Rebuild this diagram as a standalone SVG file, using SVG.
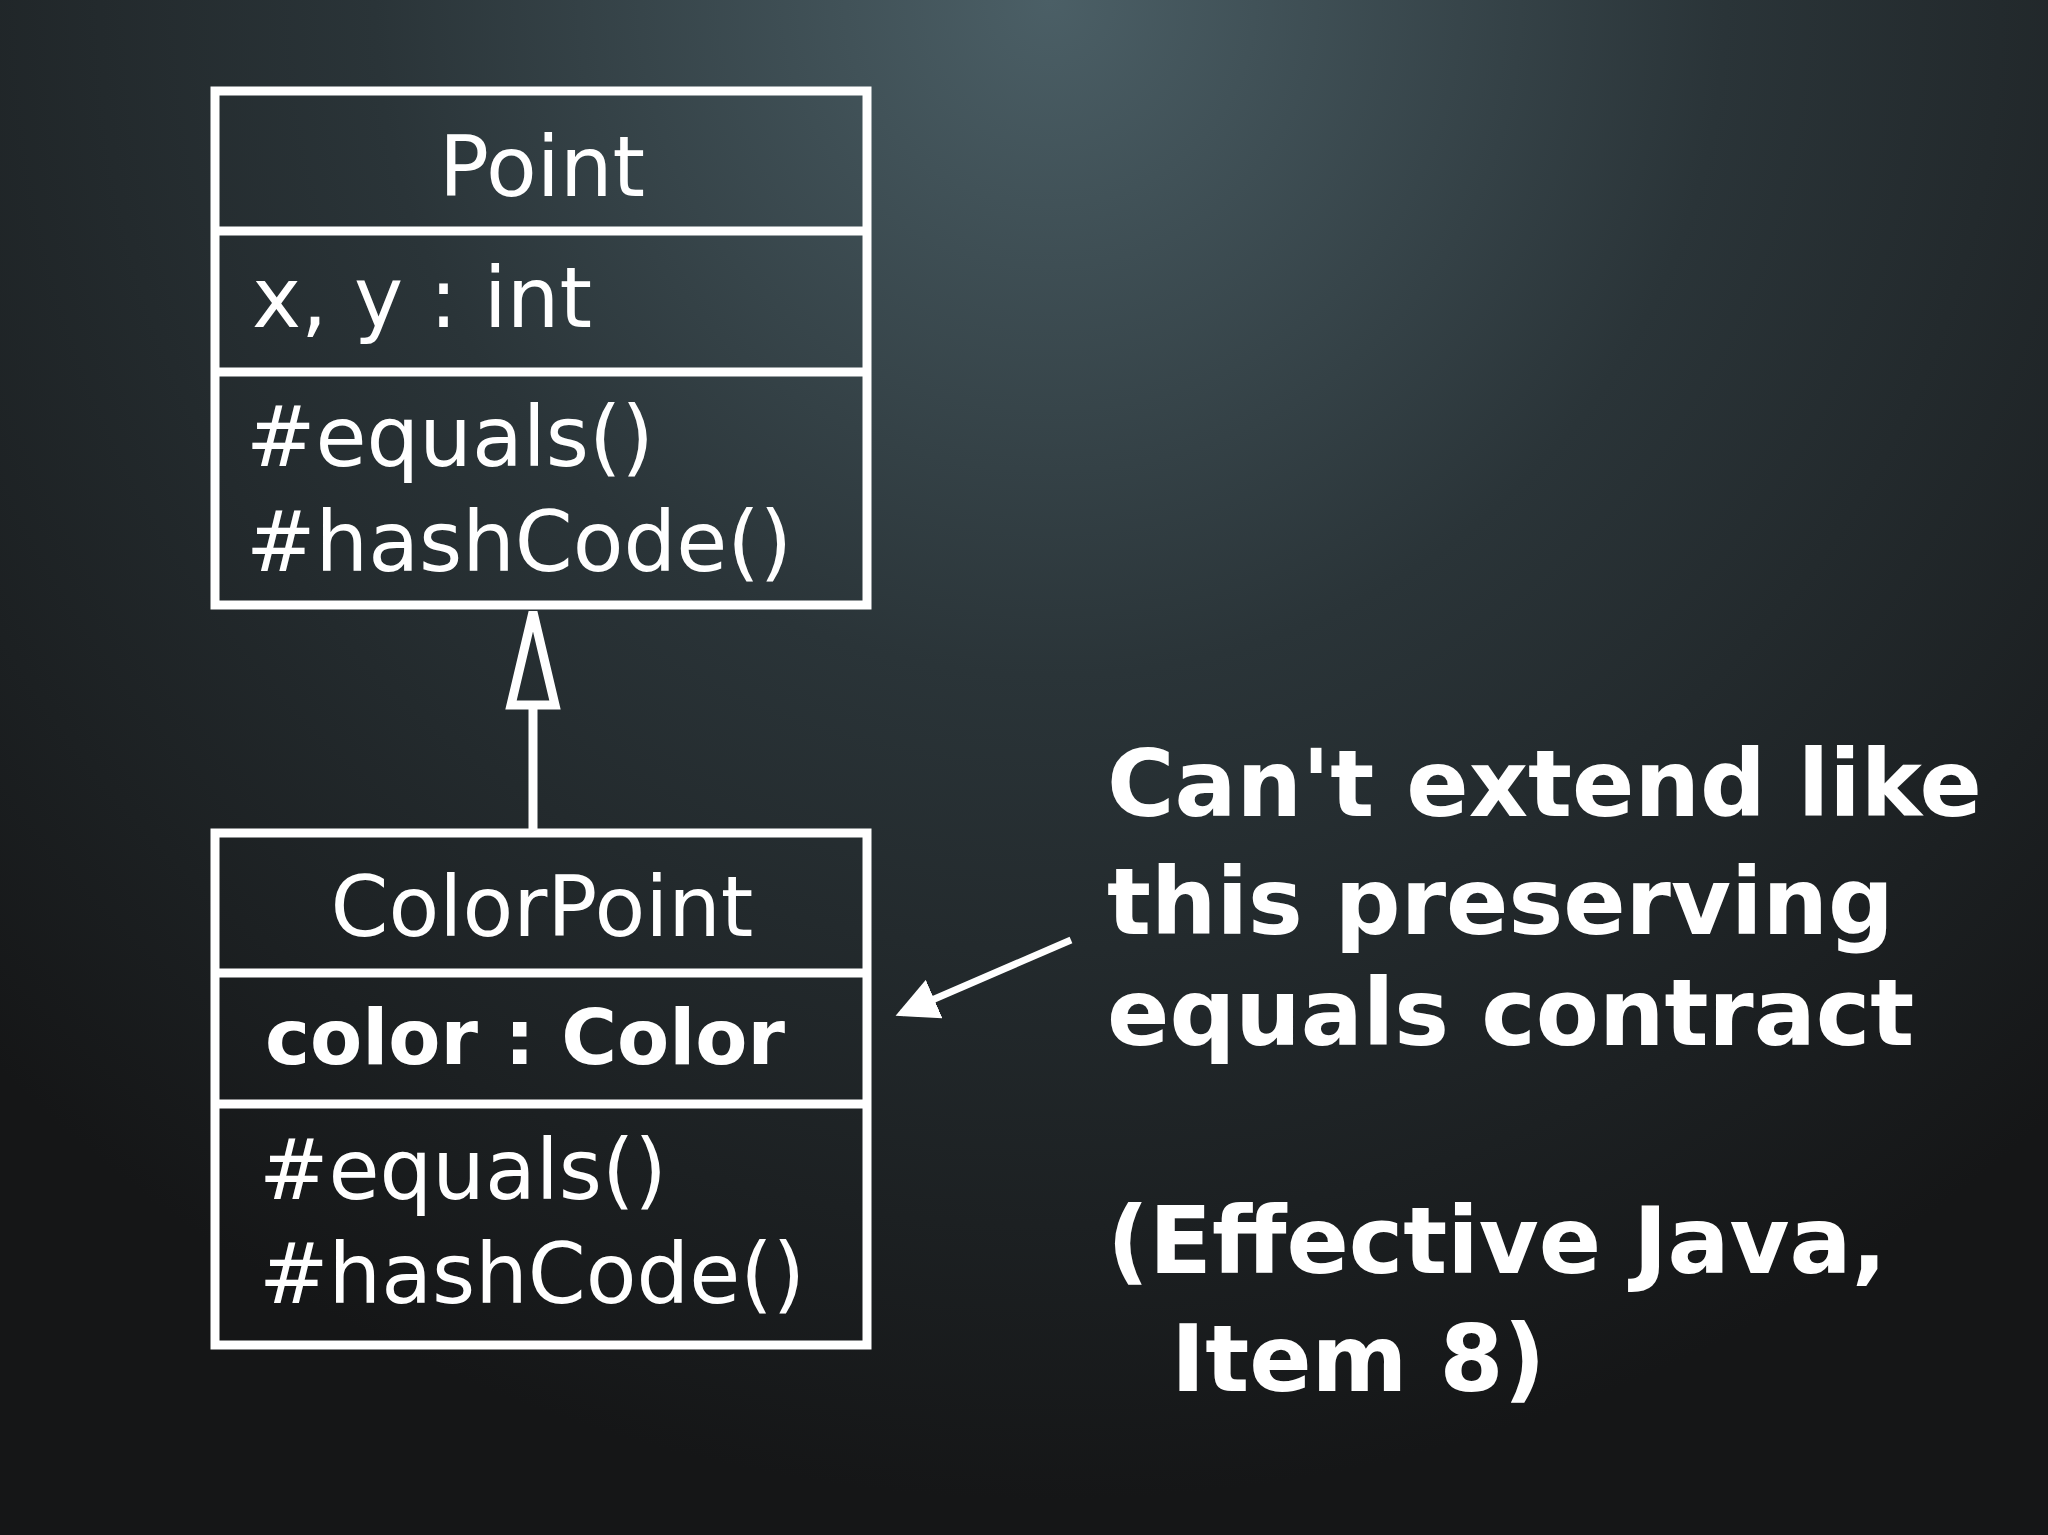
<svg xmlns="http://www.w3.org/2000/svg" width="2048" height="1535" viewBox="0 0 2048 1535">
<defs>
<radialGradient id="bg" cx="1050" cy="0" r="1500" gradientUnits="userSpaceOnUse">
<stop offset="0" stop-color="#4b5f66"/>
<stop offset="0.45" stop-color="#2a3438"/>
<stop offset="1" stop-color="#151617"/>
</radialGradient>
<marker id="ah" markerWidth="6" markerHeight="6" refX="5" refY="3" orient="auto" markerUnits="strokeWidth">
<path d="M0,0 L6,3 L0,6 Z" fill="#fff"/>
</marker>
<style>
.box{fill:none;stroke:#fff;stroke-width:9}
.t{font-family:"DejaVu Sans",Verdana,sans-serif;font-size:83px;fill:#fff}
.b{font-family:"DejaVu Sans",Verdana,sans-serif;font-weight:bold;font-size:92px;fill:#fff}
.bs{font-size:76px}
</style>
</defs>
<rect width="2048" height="1535" fill="url(#bg)"/>
<g id="Point">
<rect class="box" x="215" y="91" width="652" height="514"/>
<line class="box" x1="215" y1="231" x2="867" y2="231"/>
<line class="box" x1="215" y1="372" x2="867" y2="372"/>
<text class="t" x="542" y="196" text-anchor="middle">Point</text>
<text class="t" x="252" y="327">x, y : int</text>
<text class="t" x="246" y="466">#equals()</text>
<text class="t" x="246" y="571">#hashCode()</text>
</g>
<g id="ColorPoint">
<rect class="box" x="215" y="833" width="652" height="512"/>
<line class="box" x1="215" y1="973" x2="867" y2="973"/>
<line class="box" x1="215" y1="1104" x2="867" y2="1104"/>
<text class="t" x="542" y="936" text-anchor="middle">ColorPoint</text>
<text class="b bs" x="265" y="1064">color : Color</text>
<text class="t" x="259" y="1199">#equals()</text>
<text class="t" x="259" y="1303">#hashCode()</text>
</g>
<g id="note">
<text class="b" x="1107" y="816">Can't extend like</text>
<text class="b" x="1107" y="934">this preserving</text>
<text class="b" x="1107" y="1045">equals contract</text>
<text class="b" x="1107" y="1273">(Effective Java,</text>
<text class="b" x="1171" y="1391">Item 8)</text>
</g>
<g id="connectors">
<line x1="533" y1="833" x2="533" y2="705" stroke="#fff" stroke-width="9"/>
<polygon points="533,612 555,705 511,705" fill="none" stroke="#fff" stroke-width="9" stroke-linejoin="miter"/>
<line x1="1071" y1="940" x2="902" y2="1013" stroke="#fff" stroke-width="7" marker-end="url(#ah)"/>
</g>
</svg>
